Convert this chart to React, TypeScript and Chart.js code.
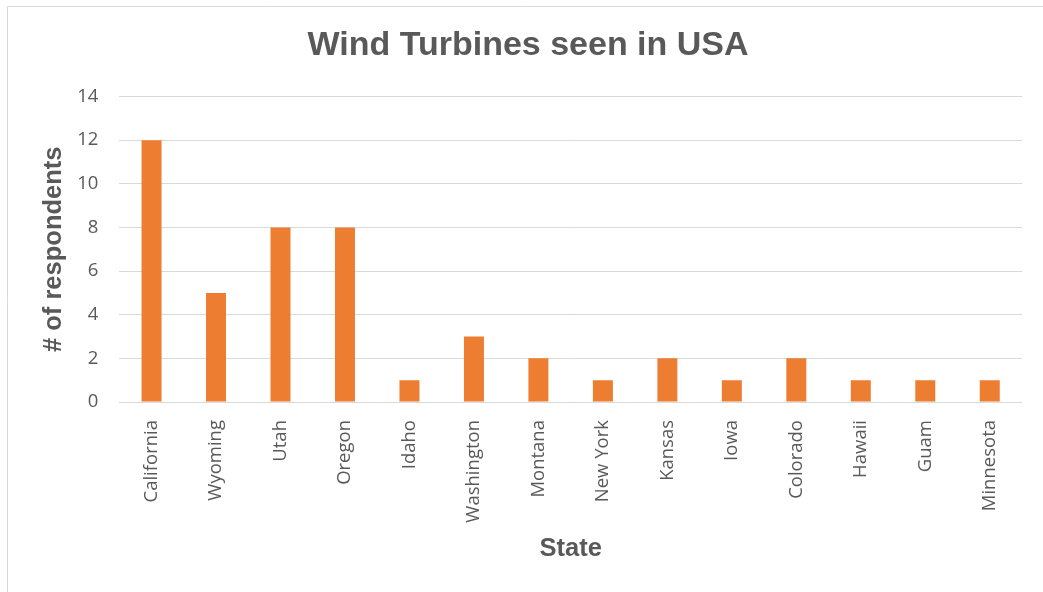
import React, { useEffect, useRef } from "react";
import { Chart, registerables } from "chart.js";

Chart.register(...registerables);

const categories: string[] = [
  "California", "Wyoming", "Utah", "Oregon", "Idaho", "Washington", "Montana",
  "New York", "Kansas", "Iowa", "Colorado", "Hawaii", "Guam", "Minnesota",
];
const respondents: number[] = [12, 5, 8, 8, 1, 3, 2, 1, 2, 1, 2, 1, 1, 1];
const chartTitle = "Wind Turbines seen in USA";
const xTitle = "State";
const yTitle = "# of respondents";
const yMin = 0;
const yMax = 14;
const yStep = 2;

const TEXT = "#595959";
const GRID = "#d9d9d9";
const BAR = "#ED7D31";

const framePlugin = {
  id: "frame",
  beforeDraw(chart: any) {
    const ctx = chart.ctx;
    ctx.save();
    ctx.strokeStyle = GRID;
    ctx.lineWidth = 1;
    ctx.beginPath();
    ctx.moveTo(7.5, chart.height);
    ctx.lineTo(7.5, 6.5);
    ctx.lineTo(chart.width, 6.5);
    ctx.stroke();
    ctx.restore();
  },
};

export default function App() {
  const ref = useRef<HTMLCanvasElement | null>(null);

  useEffect(() => {
    document.body.style.margin = "0";
    if (!ref.current) return;
    const chart = new Chart(ref.current, {
      type: "bar",
      data: {
        labels: categories,
        datasets: [
          {
            label: "Respondents",
            data: respondents,
            backgroundColor: BAR,
            borderWidth: 0,
            barPercentage: 0.31,
            categoryPercentage: 1,
          },
        ],
      },
      plugins: [framePlugin],
      options: {
        animation: false,
        responsive: true,
        maintainAspectRatio: false,
        layout: { padding: { left: 34, right: 21, top: 0, bottom: 0 } },
        plugins: {
          legend: { display: false },
          tooltip: { enabled: false },
          title: {
            display: true,
            text: chartTitle,
            color: TEXT,
            font: { family: "'Liberation Sans', Arial, sans-serif", size: 34, weight: "bold", lineHeight: 1.2 },
            padding: { top: 25, bottom: 30.7 },
          },
        },
        scales: {
          x: {
            grid: { display: false, drawTicks: false },
            border: { display: false },
            ticks: {
              color: TEXT,
              font: { family: "'Open Sans', sans-serif", size: 18.5 },
              minRotation: 90,
              maxRotation: 90,
              autoSkip: false,
              padding: 18,
            },
            title: {
              display: true,
              text: xTitle,
              color: TEXT,
              font: { family: "'Liberation Sans', Arial, sans-serif", size: 25.5, weight: "bold", lineHeight: 1.2 },
              padding: { top: 0, bottom: 28.2 },
            },
            afterFit(scale: any) {
              scale.height = 190;
            },
          },
          y: {
            min: yMin,
            max: yMax,
            ticks: {
              stepSize: yStep,
              color: TEXT,
              font: { family: "'Open Sans', sans-serif", size: 18.5 },
              padding: 21,
            },
            grid: { color: GRID, lineWidth: 1, drawTicks: false },
            border: { display: false },
            title: {
              display: true,
              text: yTitle,
              color: TEXT,
              font: { family: "'Liberation Sans', Arial, sans-serif", size: 25.5, weight: "bold", lineHeight: 1.2 },
              padding: { top: 4.7, bottom: 0 },
            },
            afterFit(scale: any) {
              scale.width = 85.3;
            },
          },
        },
      },
    } as any);
    return () => chart.destroy();
  }, []);

  return (
    <div style={{ position: "absolute", left: 0, top: 0, width: 1043, height: 592 }}>
      <canvas ref={ref} />
    </div>
  );
}
